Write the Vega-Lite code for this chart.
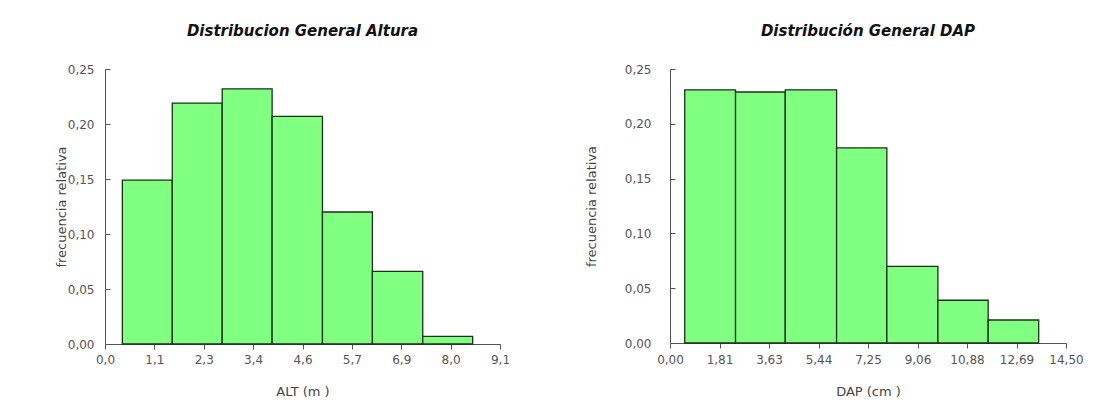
{
  "$schema": "https://vega.github.io/schema/vega-lite/v6.json",
  "background": "white",
  "padding": {"left": 55, "top": 24, "right": 10, "bottom": 5},
  "spacing": 75,
  "datasets": {
    "alt": [
      {"x0": 0.40, "x1": 1.55, "f": 0.149},
      {"x0": 1.55, "x1": 2.70, "f": 0.219},
      {"x0": 2.70, "x1": 3.85, "f": 0.232},
      {"x0": 3.85, "x1": 5.01, "f": 0.207},
      {"x0": 5.01, "x1": 6.16, "f": 0.120},
      {"x0": 6.16, "x1": 7.32, "f": 0.066},
      {"x0": 7.32, "x1": 8.47, "f": 0.007}
    ],
    "dap": [
      {"x0": 0.54, "x1": 2.40, "f": 0.231},
      {"x0": 2.40, "x1": 4.22, "f": 0.229},
      {"x0": 4.22, "x1": 6.10, "f": 0.231},
      {"x0": 6.10, "x1": 7.94, "f": 0.178},
      {"x0": 7.94, "x1": 9.81, "f": 0.070},
      {"x0": 9.81, "x1": 11.65, "f": 0.039},
      {"x0": 11.65, "x1": 13.50, "f": 0.021}
    ]
  },
  "hconcat": [
    {
      "width": 395,
      "height": 275,
      "data": {"name": "alt"},
      "title": {"text": "Distribucion General Altura"},
      "mark": {"type": "bar", "fill": "#80FF80", "stroke": "#1A301A", "strokeWidth": 1.3},
      "encoding": {
        "x": {
          "field": "x0", "type": "quantitative",
          "scale": {"domain": [0, 9.1], "nice": false, "zero": false},
          "axis": {
            "title": "ALT (m )",
            "values": [0, 1.1375, 2.275, 3.4125, 4.55, 5.6875, 6.825, 7.9625, 9.1],
            "labelExpr": "['0,0','1,1','2,3','3,4','4,6','5,7','6,9','8,0','9,1'][round(datum.value/1.1375)]",
            "labelPadding": 5,
            "titlePadding": 20
          }
        },
        "x2": {"field": "x1"},
        "y": {
          "field": "f", "type": "quantitative",
          "scale": {"domain": [0, 0.25], "nice": false},
          "axis": {
            "title": "frecuencia relativa",
            "values": [0, 0.05, 0.1, 0.15, 0.2, 0.25],
            "labelExpr": "replace(format(datum.value, '.2f'), '.', ',')",
            "tickSize": -5,
            "labelPadding": 16,
            "titlePadding": -1
          }
        },
        "y2": {"datum": 0}
      }
    },
    {
      "width": 396,
      "height": 274,
      "data": {"name": "dap"},
      "title": {"text": "Distribución General DAP"},
      "mark": {"type": "bar", "fill": "#80FF80", "stroke": "#1A301A", "strokeWidth": 1.3},
      "encoding": {
        "x": {
          "field": "x0", "type": "quantitative",
          "scale": {"domain": [0, 14.5], "nice": false, "zero": false},
          "axis": {
            "title": "DAP (cm )",
            "values": [0, 1.8125, 3.625, 5.4375, 7.25, 9.0625, 10.875, 12.6875, 14.5],
            "labelExpr": "replace(format(datum.value, '.2f'), '.', ',')",
            "labelPadding": 6,
            "titlePadding": 20
          }
        },
        "x2": {"field": "x1"},
        "y": {
          "field": "f", "type": "quantitative",
          "scale": {"domain": [0, 0.25], "nice": false},
          "axis": {
            "title": "frecuencia relativa",
            "values": [0, 0.05, 0.1, 0.15, 0.2, 0.25],
            "labelExpr": "replace(format(datum.value, '.2f'), '.', ',')",
            "tickSize": -5,
            "labelPadding": 24,
            "titlePadding": 26
          }
        },
        "y2": {"datum": 0}
      }
    }
  ],
  "config": {
    "font": "DejaVu Sans",
    "view": {"stroke": null},
    "title": {"font": "DejaVu Sans", "fontSize": 15, "fontWeight": "bold", "fontStyle": "italic", "color": "#111", "offset": 24, "anchor": "middle"},
    "axis": {
      "grid": false,
      "domainColor": "#555",
      "tickColor": "#555",
      "tickSize": 5,
      "labelFont": "DejaVu Sans",
      "labelFontSize": 12,
      "labelColor": "#555",
      "labelOverlap": false,
      "labelBound": false,
      "labelFlush": false,
      "titleFont": "DejaVu Sans",
      "titleFontSize": 13,
      "titleFontWeight": "normal",
      "titleColor": "#444"
    }
  }
}
